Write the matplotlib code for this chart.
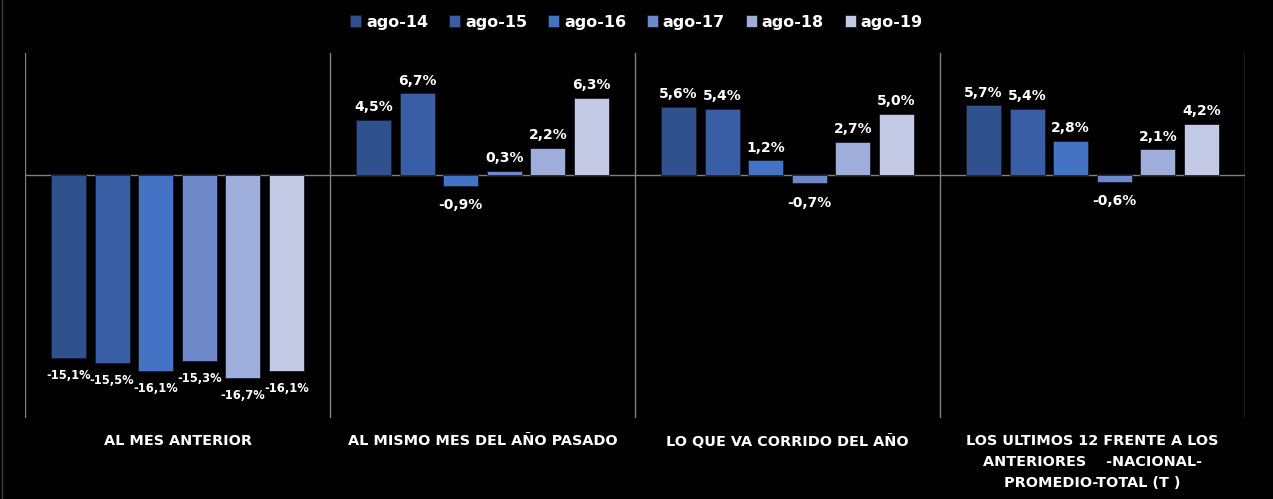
import matplotlib
matplotlib.use("Agg")
import matplotlib.pyplot as plt
import numpy as np

plt.rcParams["font.family"] = ["DejaVu Sans"]

categories = ["AL MES ANTERIOR", "AL MISMO MES DEL AÑO PASADO", "LO QUE VA CORRIDO DEL AÑO",
              "LOS ULTIMOS 12 FRENTE A LOS\nANTERIORES    -NACIONAL-\nPROMEDIO-TOTAL (T )"]
series_names = ["ago-14", "ago-15", "ago-16", "ago-17", "ago-18", "ago-19"]
ago14 = [-15.1, 4.5, 5.6, 5.7]
ago15 = [-15.5, 6.7, 5.4, 5.4]
ago16 = [-16.1, -0.9, 1.2, 2.8]
ago17 = [-15.3, 0.3, -0.7, -0.6]
ago18 = [-16.7, 2.2, 2.7, 2.1]
ago19 = [-16.1, 6.3, 5.0, 4.2]
series = [ago14, ago15, ago16, ago17, ago18, ago19]
colors = ["#2F528F", "#3A5EA6", "#4472C4", "#6E89CA", "#9EADDA", "#C3CAE6"]

W, H = 1273, 499
fig = plt.figure(figsize=(W / 100, H / 100), dpi=100, facecolor="black")
ax = fig.add_axes([25 / W, 1 - 418 / H, (1245 - 25) / W, (418 - 53) / H])
ax.set_facecolor("black")
ax.set_xlim(0, len(categories))
ax.set_ylim(-20, 10)

step = 0.143
bw = 0.115
for i, (name, vals, c) in enumerate(zip(series_names, series, colors)):
    x = np.arange(len(categories)) + 0.5 + (i - 2.5) * step
    ax.bar(x, vals, width=bw, color=c, edgecolor="#1a1a2a", linewidth=0.6, label=name, zorder=2)
    for xi, v in zip(x, vals):
        s = f"{v:.1f}%".replace(".", ",")
        if v >= 0:
            ax.annotate(s, (xi, v), xytext=(0, 4), textcoords="offset points",
                        ha="center", va="bottom", color="white", fontsize=10, fontweight="bold")
        elif v > -10:
            ax.annotate(s, (xi, v), xytext=(0, -9), textcoords="offset points",
                        ha="center", va="top", color="white", fontsize=10, fontweight="bold")
        else:
            ax.annotate(s, (xi, v), xytext=(0, -8), textcoords="offset points",
                        ha="center", va="top", color="white", fontsize=8.3, fontweight="bold")

ax.axhline(0, color="#808080", linewidth=1, zorder=1)
for b in range(len(categories) + 1):
    ax.axvline(b, color="#808080", linewidth=1, zorder=1)
for sp in ax.spines.values():
    sp.set_visible(False)
ax.set_xticks([])
ax.set_yticks([])

for k, cat in enumerate(categories):
    xf = (25 + (k + 0.5) * 305) / W
    fig.text(xf, 1 - 434 / H, cat, ha="center", va="top", color="white",
             fontsize=10.4, fontweight="bold", linespacing=1.64)

leg = fig.legend(loc="center", bbox_to_anchor=(0.5, 1 - 22 / H), ncol=6, frameon=False,
                 handlelength=0.7, handleheight=0.7, handletextpad=0.3, columnspacing=1.3,
                 prop={"weight": "bold", "size": 11.5})
for t in leg.get_texts():
    t.set_color("white")

fig.add_artist(plt.Line2D([1.5 / W, 1.5 / W], [0, 1], color="#404040", linewidth=1))

fig.savefig("out.png", dpi=100, facecolor="black")
